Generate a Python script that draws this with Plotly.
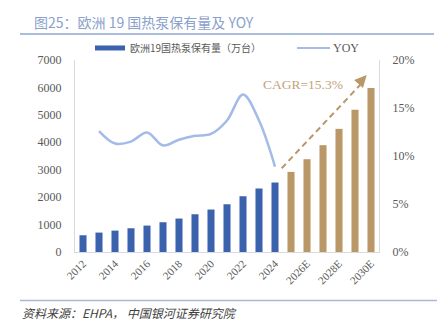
import plotly.graph_objects as go

years = ["2012", "2013", "2014", "2015", "2016", "2017", "2018", "2019", "2020",
         "2021", "2022", "2023", "2024", "2025E", "2026E", "2027E", "2028E",
         "2029E", "2030E"]
stock = [610, 708, 780, 865, 963, 1085, 1220, 1376, 1548, 1740, 2033, 2315, 2533,
         2920, 3383, 3895, 4490, 5184, 5976]
yoy_years = ["2013", "2014", "2015", "2016", "2017", "2018", "2019", "2020",
             "2021", "2022", "2023", "2024"]
yoy = [0.126, 0.113, 0.115, 0.1245, 0.111, 0.117, 0.121, 0.123, 0.137, 0.164,
       0.137, 0.089]
tick_labels = ["2012", "2014", "2016", "2018", "2020", "2022", "2024", "2026E",
               "2028E", "2030E"]

BLUE = "#3A62AD"
TAN = "#B99767"
LINE = "#A3BBE6"
GRAY = "#595959"
SERIF = "Liberation Serif, Noto Sans CJK SC"
CJK = "Noto Sans CJK SC"

bar_colors = [TAN if y.endswith("E") else BLUE for y in years]

fig = go.Figure()
fig.add_trace(go.Bar(x=years, y=stock, marker=dict(color=bar_colors, line=dict(width=0)),
                     name="欧洲19国热泵保有量（万台）", showlegend=False))
fig.add_trace(go.Scatter(x=yoy_years, y=yoy, yaxis="y2", mode="lines",
                         line=dict(color=LINE, width=2.5, shape="spline", smoothing=1.0),
                         name="YOY", showlegend=False))

fig.update_layout(
    width=437, height=324,
    margin=dict(l=75, r=58, t=60, b=72),
    paper_bgcolor="white", plot_bgcolor="white",
    bargap=0.56,
    font=dict(family=SERIF, color=GRAY, size=12),
    xaxis=dict(type="category", categoryorder="array", categoryarray=years,
               tickmode="array", tickvals=tick_labels, ticktext=tick_labels,
               tickangle=-45, showline=True, linecolor="#D9D9D9", linewidth=1,
               showgrid=False, ticks="", tickfont=dict(size=11, color=GRAY),
               range=[-0.5, 18.5]),
    yaxis=dict(range=[0, 7000], dtick=1000, showgrid=False, showline=True,
               linecolor="#D9D9D9", linewidth=1, ticks="", zeroline=False,
               ticklabelstandoff=10, tickfont=dict(size=12, color=GRAY)),
    yaxis2=dict(range=[0, 0.2], dtick=0.05, tickformat=".0%", overlaying="y",
                side="right", showgrid=False, showline=True, linecolor="#D9D9D9",
                linewidth=1, ticks="", zeroline=False, ticklabelstandoff=10,
                tickfont=dict(size=12, color=GRAY)),
)

shapes = [
    # title underline
    dict(type="line", xref="paper", yref="paper", x0=-55 / 304, x1=359 / 304,
         y0=1 + 26 / 191.7, y1=1 + 26 / 191.7, line=dict(color="#8EA7D2", width=1.5)),
    # bottom line
    dict(type="line", xref="paper", yref="paper", x0=-55 / 304, x1=362 / 304,
         y0=-48.3 / 191.7, y1=-48.3 / 191.7, line=dict(color="#A9B8D6", width=1.5)),
    # legend symbols
    dict(type="rect", xref="paper", yref="paper", x0=20 / 304, x1=50 / 304,
         y0=1 + 9.5 / 191.7, y1=1 + 14.5 / 191.7, fillcolor=BLUE, line=dict(width=0)),
    dict(type="line", xref="paper", yref="paper", x0=222 / 304, x1=255 / 304,
         y0=1 + 12 / 191.7, y1=1 + 12 / 191.7, line=dict(color=LINE, width=2)),
    # CAGR dashed arrow shaft
    dict(type="line", xref="x", yref="y", x0=12.42, y0=3055, x1=17.5, y1=6200,
         line=dict(color=TAN, width=2, dash="6px,4px")),
]
fig.update_layout(shapes=shapes)

annotations = [
    dict(text="图25：欧洲 19 国热泵保有量及 YOY", xref="paper", yref="paper",
         x=-43 / 304, y=1 + 37.5 / 191.7, xanchor="left", yanchor="middle",
         showarrow=False, font=dict(family=CJK, size=14, color="#8AA1CC")),
    dict(text="欧洲19国热泵保有量（万台）", xref="paper", yref="paper",
         x=53 / 304, y=1 + 12 / 191.7, xanchor="left", yanchor="middle",
         showarrow=False, font=dict(family=CJK, size=10, color=GRAY)),
    dict(text="YOY", xref="paper", yref="paper",
         x=256 / 304, y=1 + 12 / 191.7, xanchor="left", yanchor="middle",
         showarrow=False, font=dict(family=SERIF, size=12, color=GRAY)),
    dict(text="CAGR=15.3%", xref="x", yref="y", x=13.72, y=6100,
         xanchor="center", yanchor="middle", showarrow=False,
         font=dict(family=SERIF, size=13.5, color="#C4A27A")),
    dict(text="", xref="x", yref="y", x=17.73, y=6450, ax=17.4, ay=6240,
         axref="x", ayref="y", showarrow=True, arrowhead=2, arrowsize=1.2,
         arrowwidth=2, arrowcolor=TAN, standoff=0),
    dict(text="<i>资料来源：EHPA， 中国银河证券研究院</i>", xref="paper", yref="paper",
         x=-55 / 304, y=-60.5 / 191.7, xanchor="left", yanchor="middle",
         showarrow=False, font=dict(family=CJK, size=12, color="#404040")),
]
fig.update_layout(annotations=annotations)

fig.write_html("out.html")
